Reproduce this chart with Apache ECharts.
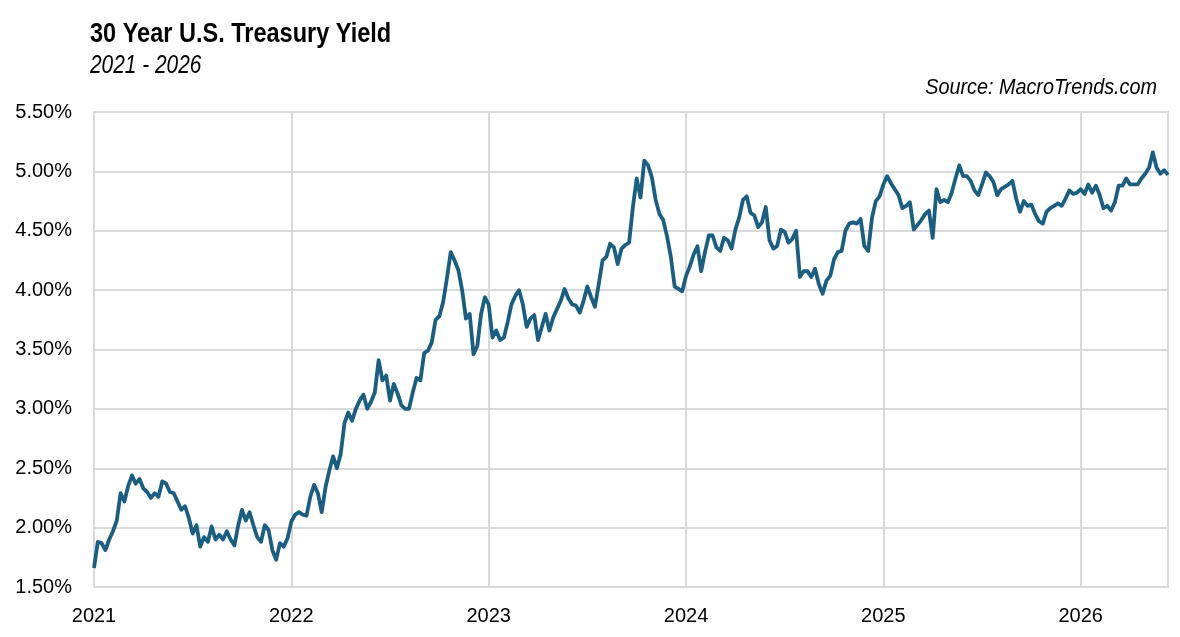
<!DOCTYPE html>
<html>
<head>
<meta charset="utf-8">
<script src="https://cdn.jsdelivr.net/npm/echarts@6/dist/echarts.min.js"></script>
<style>
  html, body { margin: 0; padding: 0; background: #fff; }
  #chart { width: 1180px; height: 637px; }
</style>
</head>
<body>
<div id="chart"></div>
<script type="text/javascript">
// weekly readings, first one = start of 2021
var startYear = 2021;
var weekStep = 1 / 52;
var yields = [
  1.66,1.88,1.87,1.81,1.90,1.97,2.06,2.29,2.22,2.35,
  2.44,2.37,2.41,2.33,2.30,2.25,2.29,2.26,2.39,2.37,
  2.30,2.29,2.22,2.15,2.18,2.08,1.95,2.02,1.84,1.92,
  1.88,2.01,1.90,1.94,1.90,1.97,1.90,1.85,2.02,2.15,
  2.06,2.13,2.02,1.92,1.88,2.02,1.98,1.81,1.73,1.87,
  1.84,1.91,2.05,2.11,2.13,2.11,2.10,
  2.26,2.36,2.29,2.13,2.34,2.48,2.60,2.50,2.62,2.88,
  2.97,2.90,3.00,3.07,3.12,3.00,3.06,3.14,3.41,3.24,
  3.28,3.07,3.21,3.13,3.03,3.00,3.00,3.14,3.26,3.24,
  3.47,3.49,3.56,3.75,3.78,3.90,4.10,
  4.32,4.25,4.17,4.00,3.76,3.80,3.46,3.53,3.80,3.94,
  3.88,3.60,3.66,3.58,3.60,3.73,3.88,3.95,4.00,3.88,
  3.69,3.76,3.79,3.58,3.69,3.80,3.66,3.77,3.84,3.91,
  4.01,3.93,3.88,3.87,3.81,3.91,4.03,3.94,3.86,4.05,
  4.25,4.28,4.39,4.36,4.22,4.35,4.38,4.40,4.70,4.94,
  4.78,5.09,5.05,4.95,4.76,4.64,4.59,4.45,
  4.28,4.03,4.01,3.99,4.12,4.20,4.30,4.37,4.16,4.32,
  4.46,4.46,4.36,4.33,4.44,4.42,4.35,4.51,4.61,4.76,
  4.79,4.65,4.63,4.53,4.57,4.70,4.42,4.35,4.37,4.51,
  4.49,4.40,4.43,4.50,4.11,4.16,4.16,4.11,4.18,4.05,
  3.97,4.08,4.12,4.26,4.32,4.33,4.50,4.56,4.57,4.56,
  4.60,4.37,4.33,4.61,4.75,4.79,
  4.89,4.96,4.90,4.85,4.80,4.69,4.71,4.74,4.51,4.55,
  4.59,4.64,4.67,4.44,4.85,4.74,4.76,4.74,4.82,4.94,
  5.05,4.96,4.96,4.92,4.84,4.80,4.89,4.99,4.96,4.91,
  4.80,4.85,4.87,4.89,4.92,4.77,4.66,4.75,4.71,4.72,
  4.64,4.58,4.56,4.66,4.69,4.71,4.73,4.71,4.77,4.84,
  4.81,4.82,4.85,4.81,4.89,4.82,4.88,4.80,4.69,4.71,
  4.67,4.74,4.88,4.88,4.94,4.89,4.89,4.89,4.94,4.98,
  5.03,5.16,5.03,4.98,5.01,4.97
];
var yTicks = { min: 1.5, max: 5.5, step: 0.5 };

var points = yields.map(function (v, i) {
  return [startYear + i * weekStep, v];
});
var endYear = startYear + (yields.length - 1) * weekStep;

var font = "'Liberation Sans', Arial, sans-serif";

var myChart = echarts.init(document.getElementById('chart'));

// no narrow font installed, so the header texts are squeezed with scaleX
var option = {
    backgroundColor: '#ffffff',
    animation: false,
    graphic: [
        {
            type: 'text', x: 90, y: 34, scaleX: 0.84,
            style: { text: '30 Year U.S. Treasury Yield', fontFamily: font, fontSize: 28, fontWeight: 'bold',
                     fill: '#000', align: 'left', verticalAlign: 'middle' }
        },
        {
            type: 'text', x: 90, y: 66, scaleX: 0.835,
            style: { text: '2021 - 2026', fontFamily: font, fontSize: 25, fontStyle: 'italic',
                     fill: '#000', align: 'left', verticalAlign: 'middle' }
        },
        {
            type: 'text', x: 1157, y: 88, scaleX: 0.9,
            style: { text: 'Source: MacroTrends.com', fontFamily: font, fontSize: 22, fontStyle: 'italic',
                     fill: '#000', align: 'right', verticalAlign: 'middle' }
        }
    ],
    grid: {
        left: 94, right: 12, top: 112, bottom: 50,
        show: true, borderColor: '#d4d4d4', borderWidth: 2
    },
    xAxis: {
        type: 'value',
        min: startYear,
        max: endYear,
        interval: 1,
        axisLine: { show: false },
        axisTick: { show: false },
        splitLine: { lineStyle: { color: '#d9d9d9', width: 2 } },
        axisLabel: {
            margin: 19,
            fontFamily: font, fontSize: 20, color: '#000',
            formatter: function (v) {
                return Math.abs(v - Math.round(v)) < 1e-6 ? String(Math.round(v)) : '';
            }
        }
    },
    yAxis: {
        type: 'value',
        min: yTicks.min,
        max: yTicks.max,
        interval: yTicks.step,
        axisLine: { show: false },
        axisTick: { show: false },
        splitLine: { lineStyle: { color: '#d9d9d9', width: 2 } },
        axisLabel: {
            margin: 22,
            fontFamily: font, fontSize: 20, color: '#000',
            formatter: function (v) { return v.toFixed(2) + '%'; }
        }
    },
    series: [
        {
            name: '30 Year Treasury',
            type: 'line',
            data: points,
            showSymbol: false,
            lineStyle: { color: '#1a5e82', width: 3.8, join: 'round' },
            z: 3
        }
    ]
};
myChart.setOption(option);
</script>
</body>
</html>
